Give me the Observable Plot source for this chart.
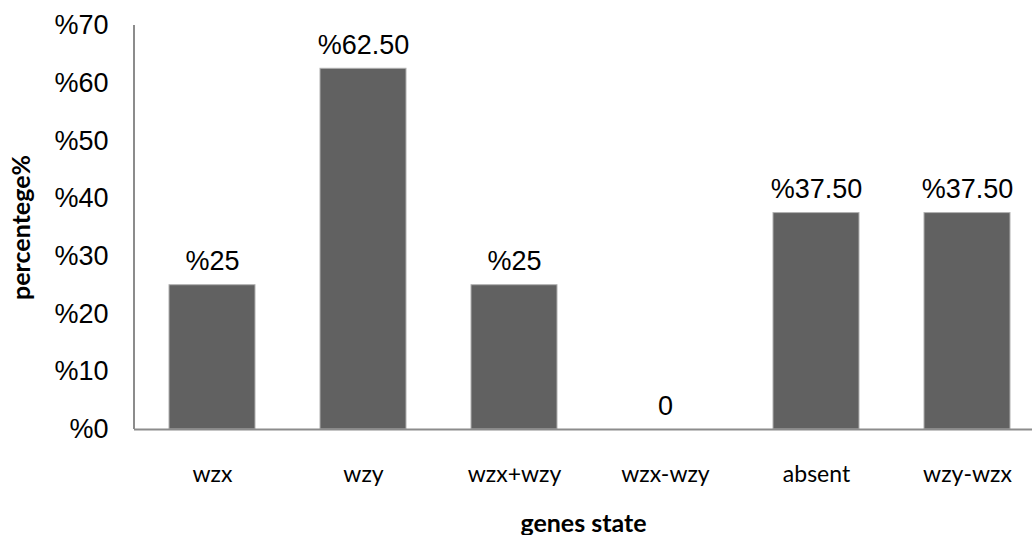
<!DOCTYPE html>
<html>
<head>
<meta charset="utf-8">
<script src="https://cdn.jsdelivr.net/npm/d3@7"></script>
<script src="https://cdn.jsdelivr.net/npm/@observablehq/plot@0.6"></script>
<style>
  html, body { margin: 0; padding: 0; background: #fff; }
  #chart svg { display: block; }
</style>
</head>
<body>
<div id="chart"></div>
<script>
const categories = ["wzx", "wzy", "wzx+wzy", "wzx-wzy", "absent", "wzy-wzx"];
const values = [25, 62.5, 25, 0, 37.5, 37.5];
const valueLabels = ["%25", "%62.50", "%25", "0", "%37.50", "%37.50"];
const yTicks = [0, 10, 20, 30, 40, 50, 60, 70];
const xTitle = "genes state";
const yTitle = "percentege%";

const data = categories.map((c, i) => ({cat: c, value: values[i], label: valueLabels[i]}));

const chart = Plot.plot({
  width: 1032,
  height: 535,
  marginLeft: 134,
  marginRight: 0,
  marginTop: 25,
  marginBottom: 106,
  style: {background: "#fff"},
  x: {domain: categories, range: [134, 1045], paddingInner: 0.43, paddingOuter: 0.215, label: null},
  y: {domain: [0, 70], label: null},
  marks: [
    Plot.barY(data, {x: "cat", y: "value", fill: "#616161", stroke: "#b0b0b0", strokeWidth: 1}),
    Plot.ruleY([0], {stroke: "#8c8c8c", strokeWidth: 2}),
    Plot.axisY({ticks: yTicks, tickSize: 0, tickPadding: 26, tickFormat: d => "%" + d,
      fontFamily: "Liberation Sans, Arial, sans-serif", fontSize: 27, fill: "#000", label: null}),
    Plot.axisX({tickSize: 0, tickPadding: 36, fontFamily: "Lato, sans-serif", fontSize: 23,
      fill: "#000", label: null}),
    Plot.text(data, {x: "cat", y: "value", text: "label", lineAnchor: "bottom", dy: -15,
      fontFamily: "Liberation Sans, Arial, sans-serif", fontSize: 27, fill: "#000"}),
    Plot.text([xTitle], {frameAnchor: "bottom", dy: 102, fontFamily: "Lato, sans-serif",
      fontWeight: "bold", fontSize: 25, fill: "#000", lineAnchor: "bottom"}),
    Plot.text([yTitle], {frameAnchor: "left", dx: -113, rotate: -90, textAnchor: "middle",
      fontFamily: "Lato, sans-serif", fontWeight: "bold", fontSize: 25, fill: "#000"})
  ]
});

// left axis line
const svg = d3.select(chart);
svg.append("line")
  .attr("x1", 134).attr("x2", 134).attr("y1", 25).attr("y2", 429)
  .attr("stroke", "#8c8c8c").attr("stroke-width", 2);

document.getElementById("chart").appendChild(chart);
</script>
</body>
</html>
